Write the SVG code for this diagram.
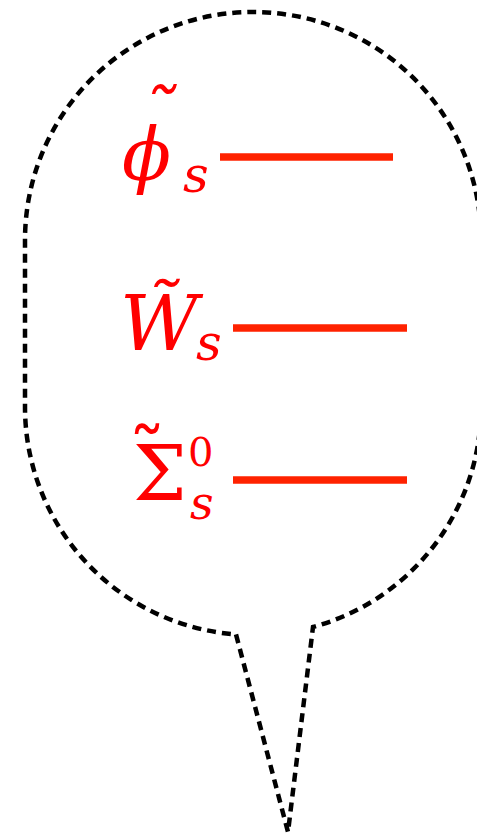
<svg xmlns="http://www.w3.org/2000/svg" width="477" height="836" viewBox="0 0 477 836">
<style>
.bubble{fill:none;stroke:#000;stroke-width:4.5;stroke-dasharray:9 6}
.bar{stroke:#ff2200;stroke-width:7.5}
text{fill:#ff0000;font-family:"DejaVu Serif",serif}
.m{font-style:italic}
.u{font-style:normal}
</style>
<g id="bubble">
<path class="bubble" d="M 236 634.4 L 288 832 L 313 627 A 228 228 0 0 0 481 407 L 481 240 A 228 228 0 0 0 25 240 L 25 407 A 228 228 0 0 0 236 634.4 Z"/>
</g>
<g id="connectors">
<line class="bar" x1="220" y1="157" x2="393" y2="157"/>
<line class="bar" x1="233" y1="328" x2="407" y2="328"/>
<line class="bar" x1="233" y1="480" x2="407" y2="480"/>
</g>
<g id="phi">
<text font-size="72"><tspan class="m" x="122 139" y="180 141">ϕ˜</tspan><tspan class="m" x="183" y="192" font-size="50">s</tspan></text>
</g>
<g id="W">
<text font-size="76"><tspan class="m" x="120" y="350">W̃</tspan><tspan class="m" x="196" y="360" font-size="50">s</tspan></text>
</g>
<g id="Sigma">
<text font-size="76"><tspan class="u" x="133 128" y="500 483">Σ˜</tspan><tspan class="u" x="188" y="466" font-size="40">0</tspan><tspan class="m" x="190" y="519" font-size="46">s</tspan></text>
</g>
</svg>
